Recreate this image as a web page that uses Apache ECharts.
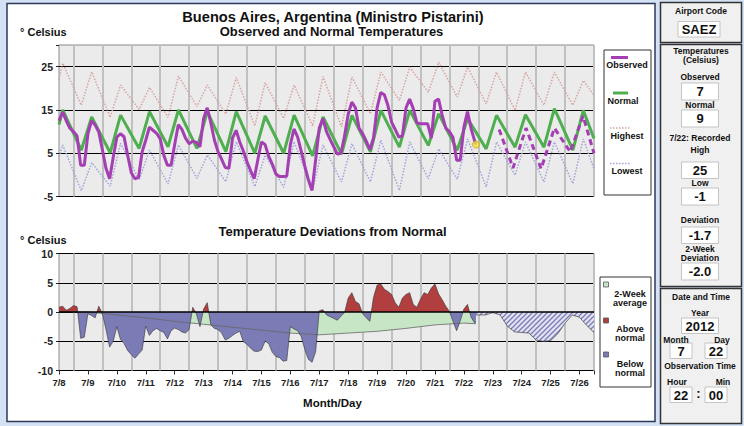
<!DOCTYPE html>
<html><head><meta charset="utf-8">
<script src="https://cdn.jsdelivr.net/npm/echarts@6/dist/echarts.min.js"></script>
<style>html,body{margin:0;padding:0;background:#d5e1f5;}#c{width:744px;height:426px;}</style>
</head><body><div id="c"></div>
<script>
// ---------- data ----------
// x unit: days since 7/8 12:00 (tick labels at noon of each day)
const dayLabels = ['7/8','7/9','7/10','7/11','7/12','7/13','7/14','7/15','7/16','7/17','7/18','7/19','7/20','7/21','7/22','7/23','7/24','7/25','7/26'];
const topTicks = [-5, 5, 15, 25];
const devTicks = [-10, -5, 0, 5, 10];
const X_MAX = 18.5;
const PEAK_T = 0.13, TROUGH_T = 0.77;   // daily max ~15:00, daily min ~06:30

const normalPeaks   = [15.0,13.4,13.8,14.6,15.0,14.6,14.6,13.6,13.8,13.4,13.75,14.9,14.9,14.1,13.0,13.75,13.9,15.3,14.9];
const normalTroughs = [5.7,5.1,6.1,6.5,6.1,5.35,5.0,5.0,4.4,4.8,5.3,6.4,6.8,5.7,6.0,6.4,6.4,5.7];
const normalEnds = [11.6, 8.4];

const highestPeaks   = [25.8,23.8,20.75,20.2,22.8,20.75,22.5,21.3,20.75,22.7,22.6,23.75,24.9,26.0,24.9,23.75,23.75,23.75,21.8];
const highestTroughs = [16.1,13.3,15.1,13.3,15.8,14.05,11.3,13.05,11.3,11.1,14.1,17.2,19.1,18.0,16.4,14.9,16.1,16.1];
const highestEnds = [22.0, 18.4];

const lowestPeaks   = [6.9,2.8,7.3,5.7,6.9,4.6,7.65,4.6,7.65,6.9,7.2,8.0,7.6,6.0,8.3,7.6,7.6,7.6,8.3];
const lowestTroughs = [-3.65,-2.6,-1.2,-2.1,-0.8,-1.6,-2.7,-2.9,-3.5,-1.65,-1.65,-3.6,-0.9,-1.0,-2.8,-0.1,-1.65,-2.0];
const lowestEnds = [4.2, 1.4];

// observed, every 3 hours from 7/8 12:00
const OBS_STEP = 0.125;
const observed = [
 12.5,14.5,12.5,10.8,10.0,9.0,2.2,2.2,
 9.5,12.5,11.5,9.9,5.8,1.5,-0.9,4.0,
 8.7,9.5,8.8,4.5,0.5,-0.9,-0.6,5.3,
 8.0,11.0,10.3,9.6,8.3,4.5,2.2,2.2,
 7.0,11.6,10.5,8.5,7.2,7.8,7.5,6.5,
 13.0,15.5,12.0,8.0,5.3,3.6,1.7,1.5,
 8.5,10.3,7.6,5.5,3.0,1.0,-0.9,3.5,
 7.6,7.0,4.3,2.5,0.2,-0.4,-0.4,-0.3,
 7.0,10.6,8.8,5.5,2.0,-1.2,-3.6,3.5,
 10.8,13.0,10.0,8.2,6.5,4.8,5.0,9.0,
 14.0,16.8,15.5,10.8,9.5,7.8,5.8,8.5,
 15.5,19.0,18.5,16.0,12.2,10.5,8.7,9.0,
 15.5,17.5,15.3,12.0,11.8,11.8,11.8,8.5,
 17.0,17.5,13.8,10.8,10.0,8.6,3.4,3.4,
 11.0,14.6,10.7,7.8
];
const deviation = [
 0.8,1.0,0.3,0.6,1.1,0.9,-4.5,-4.3,
 -0.3,-0.6,-1.0,1.0,-0.3,-3.0,-6.0,-5.0,
 -2.5,-4.7,-5.4,-6.6,-7.3,-7.9,-7.2,-6.5,
 -2.4,-4.0,-3.2,-2.8,-3.2,-3.5,-4.6,-3.2,
 -2.75,-3.0,-3.4,-3.6,-3.0,0.8,-0.3,-2.5,
 0.5,1.6,-2.2,-2.8,-3.0,-3.6,-4.8,-4.5,
 -4.0,-3.6,-3.3,-5.1,-5.5,-6.2,-6.7,-6.75,
 -6.5,-5.0,-5.4,-6.9,-7.6,-7.8,-8.4,-8.3,
 -2.5,-2.9,-3.2,-4.2,-6.4,-8.1,-8.6,-6.8,
 0.2,0.4,-0.5,-0.8,-1.1,-1.4,-0.7,-0.1,
 2.4,3.3,1.8,1.4,-0.3,-1.0,-1.6,2.5,
 4.6,4.8,3.9,3.5,3.0,1.6,0.8,2.4,
 3.0,3.3,1.3,0.8,2.2,3.3,3.0,4.1,
 4.8,3.1,2.1,1.0,0.1,-1.6,-3.2,-1.5,
 0.5,1.3,-0.9,-1.9
];
// current observation 7/22 22:00
const currentTime = 14 + 10/24;
const currentObs = 7, currentNormal = 9, currentDev = -1.7, twoWeekDev = -2.0;
const recordHigh = 25, recordLow = -1;

// forecast (dashed) observed
const fcTimes  = [15.22, 15.70, 16.15, 16.67, 17.13, 17.68, 18.12, 18.5];
const fcValues = [10.5, 1.6, 10.8, 1.4, 10.8, 5.3, 13.6, 5.0];

// forecast deviation (hatched)
const fcDevTimes  = [currentTime,14.75,15.0,15.25,15.5,15.75,16.0,16.25,16.5,16.75,17.0,17.25,17.5,17.75,18.0,18.25,18.5];
const fcDevValues = [-0.5,-0.5,-0.1,-0.5,-2.4,-3.4,-3.5,-3.6,-4.8,-5.0,-4.9,-3.7,-1.9,-0.5,-0.9,-2.3,-3.5];

// 2-week average deviation
const avgTimes  = [0,1,2,3,4,5,6,7,8,9,10,11,12,13,14,currentTime];
const avgValues = [0,0,-0.5,-1.0,-1.6,-2.1,-2.6,-3.1,-3.6,-3.9,-3.6,-3.3,-2.8,-2.2,-1.9,-2.0];

// ---------- build ----------
function dailyCurve(ends, peaks, troughs) {
  const pts = [[0, ends[0]]];
  peaks.forEach((p, k) => {
    pts.push([k + PEAK_T, p]);
    if (k < troughs.length) pts.push([k + TROUGH_T, troughs[k]]);
  });
  pts.push([X_MAX, ends[1]]);
  return pts;
}
const zip = (a, b) => a.map((t, i) => [t, b[i]]);
const obsData = observed.map((v, i) => [i * OBS_STEP, v]).concat([[currentTime, currentObs]]);
const devData = deviation.map((v, i) => [i * OBS_STEP, v]).concat([[currentTime, currentDev]]);

const PURPLE = '#a43fb3', GREEN = '#4fae4f', PINK = '#d9a3a3', LBLUE = '#a3a3db';
const RED = '#b23f3f', BLUE = '#7b7bb6', LGREEN = '#c6e6c6';
const FONT = "'Liberation Sans', Arial, sans-serif";

const hatch = document.createElement('canvas');
hatch.width = 5; hatch.height = 5;
(function(){ const g = hatch.getContext('2d');
  g.fillStyle = '#e2e2f0'; g.fillRect(0,0,5,5);
  g.strokeStyle = '#7c7cb8'; g.lineWidth = 1.3;
  g.beginPath(); g.moveTo(-1,6); g.lineTo(6,-1); g.stroke();
  g.beginPath(); g.moveTo(-1,1); g.lineTo(1,-1); g.stroke();
  g.beginPath(); g.moveTo(4,6); g.lineTo(6,4); g.stroke();
})();

const dayLabel = v => { const i = Math.round(v); return (Math.abs(v - i) < 1e-6 && dayLabels[i]) ? dayLabels[i] : ''; };

// gridline axis: splitLines at midnights (every other half-day tick)
function gridAx(gridIndex, position) {
  return {
    type: 'value', gridIndex, position, min: 0, max: X_MAX, interval: 0.5,
    axisLine: { show: false }, axisTick: { show: false }, axisLabel: { show: false },
    splitLine: { show: true, lineStyle: { color: ['rgba(0,0,0,0)', '#c0c0c0'], width: 2 } }
  };
}

// ---------- layout graphics ----------
const T = (text, x, y, size, opt) => Object.assign({ type: 'text', silent: true, z: 10,
  style: { text, x, y, fill: '#111', font: 'bold ' + size + 'px ' + FONT, textAlign: 'center', textVerticalAlign: 'middle' } }, opt || {});
const TL = (text, x, y, size) => { const t = T(text, x, y, size); t.style.textAlign = 'left'; return t; };
const R = (x, y, w, h, fill, stroke, lw, z) => ({ type: 'rect', silent: true, z: z == null ? 1 : z,
  shape: { x, y, width: w, height: h }, style: { fill, stroke, lineWidth: lw } });
const L = (x1, y1, x2, y2, stroke, lw, dash) => ({ type: 'line', silent: true, z: 10,
  shape: { x1, y1, x2, y2 }, style: { stroke, lineWidth: lw, lineDash: dash || null } });
const box = (x, y, w, h) => R(x, y, w, h, '#ffffff', '#c4c4c4', 1, 5);

const graphics = [
  R(7, 3.5, 648, 418, '#ffffff', '#2c3a58', 1.5, -10),
  T('Buenos Aires, Argentina (Ministro Pistarini)', 333, 16.8, 14.6),
  T('Observed and Normal Temperatures', 331.5, 31.2, 13),
  TL('° Celsius', 20, 32, 11),
  T('Temperature Deviations from Normal', 332.5, 231, 13),
  TL('° Celsius', 20, 239.5, 11),
  T('Month/Day', 332.5, 403, 11.5),
  // top legend
  R(604, 50, 47, 145, '#ffffff', '#333', 1, 5),
  L(611, 57.5, 628, 57.5, PURPLE, 3), T('Observed', 627, 65, 9),
  L(613, 93, 628, 93, GREEN, 3), T('Normal', 623, 100.5, 9),
  L(610, 128, 630, 128, PINK, 1.5, [1.5, 1.5]), T('Highest', 627, 136, 9),
  L(610, 163.5, 630, 163.5, LBLUE, 1.5, [1.5, 1.5]), T('Lowest', 627, 171, 9),
  // bottom legend
  R(600, 277, 51, 110, '#ffffff', '#333', 1, 5),
  R(603.5, 282, 5, 5, LGREEN, '#555', 0.8, 10), T('2-Week', 630, 294, 9), T('average', 630, 303, 9),
  R(603.5, 318, 5, 5, RED, '#555', 0.8, 10), T('Above', 630, 328.5, 9), T('normal', 630, 337.5, 9),
  R(603.5, 352, 5, 5, BLUE, '#555', 0.8, 10), T('Below', 630, 363.5, 9), T('normal', 630, 372.5, 9),
  // right panels
  R(660.5, 2.5, 81, 40, '#f0f0f0', '#333', 1.5, 0),
  T('Airport Code', 701, 10.5, 8.5), box(678, 21.5, 42, 15.5), T('SAEZ', 699, 29.5, 13),
  R(660.5, 44.5, 81, 242, '#f0f0f0', '#333', 1.5, 0),
  T('Temperatures', 701, 50.5, 8.5), T('(Celsius)', 701, 59.5, 8.5),
  T('Observed', 700, 77, 8.5), box(681.5, 83, 37, 17), T(String(currentObs), 700, 91.8, 13),
  T('Normal', 700, 105, 8.5), box(681.5, 110, 37, 17), T(String(currentNormal), 700, 118.8, 13),
  T('7/22: Recorded', 700, 138, 8.5), T('High', 700, 150, 8.5),
  box(681.5, 162, 37, 16.5), T(String(recordHigh), 700, 170.5, 13),
  T('Low', 700, 183, 8.5), box(681.5, 188, 37, 17), T(String(recordLow), 700, 196.8, 13),
  T('Deviation', 700, 220, 8.5), box(681.5, 227, 37, 16.5), T(currentDev.toFixed(1), 700, 235.5, 13),
  T('2-Week', 700, 249, 8.5), T('Deviation', 700, 258, 8.5),
  box(681.5, 263, 37, 17), T(twoWeekDev.toFixed(1), 700, 271.8, 13),
  R(660.5, 288.5, 81, 135, '#f0f0f0', '#333', 1.5, 0),
  T('Date and Time', 701, 296.5, 8.5), T('Year', 700, 313, 8.5),
  box(681.5, 318, 37, 15.5), T('2012', 700, 326, 13),
  T('Month', 676, 339.5, 8.5), T('Day', 722, 339.5, 8.5),
  box(670, 343, 22, 15.5), T('7', 681, 351, 13), box(705, 343, 22, 15.5), T('22', 716, 351, 13),
  T('Observation Time', 700, 365.5, 8.5),
  T('Hour', 677, 381.5, 8.5), T('Min', 723, 381.5, 8.5),
  box(670, 387, 22, 15.5), T('22', 681, 395, 13), T(':', 698.5, 393.5, 13),
  box(705, 387, 22, 15.5), T('00', 716, 395, 13)
];

const chart = echarts.init(document.getElementById('c'), null, { renderer: 'svg', width: 744, height: 426 });
chart.setOption({
  animation: false,
  backgroundColor: '#d5e1f5',
  textStyle: { fontFamily: FONT },
  graphic: { elements: graphics },
  grid: [
    { left: 59, top: 45, width: 535, height: 151.5, show: true, backgroundColor: '#ebebeb', borderColor: '#8a8a8a', borderWidth: 1 },
    { left: 59, top: 253.5, width: 535, height: 117, show: true, backgroundColor: '#ebebeb', borderColor: '#8a8a8a', borderWidth: 1 }
  ],
  xAxis: [
    gridAx(0, 'bottom'),
    gridAx(1, 'top'),
    { type: 'value', gridIndex: 1, position: 'bottom', min: 0, max: X_MAX, interval: 1,
      axisLine: { show: false }, splitLine: { show: false },
      axisTick: { show: true, length: 4, lineStyle: { color: '#333' } },
      axisLabel: { formatter: dayLabel, fontFamily: FONT, fontWeight: 'bold', fontSize: 9.5, color: '#222', margin: 7 } }
  ],
  yAxis: [
    { type: 'value', gridIndex: 0, min: -5, max: 30, interval: 5,
      axisLine: { show: false }, axisTick: { show: false },
      axisLabel: { formatter: v => topTicks.includes(v) ? String(v) : '', fontFamily: FONT, fontWeight: 'bold', fontSize: 10.5, color: '#222', margin: 6 },
      splitLine: { show: true, lineStyle: { color: ['#000', 'rgba(0,0,0,0)'], width: 1 } } },
    { type: 'value', gridIndex: 1, min: -10, max: 10, interval: 5,
      axisLine: { show: false },
      axisTick: { show: true, length: 3, lineStyle: { color: '#222' } },
      axisLabel: { formatter: v => devTicks.includes(v) ? String(v) : '', fontFamily: FONT, fontWeight: 'bold', fontSize: 10.5, color: '#222', margin: 6 },
      splitLine: { show: true, lineStyle: { color: '#000', width: 1 } } },
    { type: 'value', gridIndex: 0, position: 'left', min: -5, max: 30, interval: 10,
      axisLine: { show: false }, axisLabel: { show: false }, splitLine: { show: false },
      axisTick: { show: true, length: 3, lineStyle: { color: '#222' } } }
  ],
  visualMap: [{ type: 'piecewise', show: false, seriesIndex: 7, dimension: 1,
    pieces: [{ gte: -50, lt: 0, color: BLUE }, { gte: 0, lte: 50, color: RED }] }],
  series: [
    { name: 'Highest', type: 'line', xAxisIndex: 0, yAxisIndex: 0, data: dailyCurve(highestEnds, highestPeaks, highestTroughs),
      symbol: 'none', lineStyle: { color: PINK, width: 1.5, type: [1.5, 1.5] }, silent: true },
    { name: 'Lowest', type: 'line', xAxisIndex: 0, yAxisIndex: 0, data: dailyCurve(lowestEnds, lowestPeaks, lowestTroughs),
      symbol: 'none', lineStyle: { color: LBLUE, width: 1.5, type: [1.5, 1.5] }, silent: true },
    { name: 'Normal', type: 'line', xAxisIndex: 0, yAxisIndex: 0, data: dailyCurve(normalEnds, normalPeaks, normalTroughs),
      symbol: 'none', lineStyle: { color: GREEN, width: 3 }, silent: true },
    { name: 'Observed', type: 'line', xAxisIndex: 0, yAxisIndex: 0, data: obsData,
      symbol: 'none', lineStyle: { color: PURPLE, width: 3 }, silent: true },
    { name: 'Forecast', type: 'line', xAxisIndex: 0, yAxisIndex: 0, data: zip(fcTimes, fcValues),
      symbol: 'none', lineStyle: { color: PURPLE, width: 3, type: [6, 4] }, silent: true },
    { name: 'Current', type: 'scatter', xAxisIndex: 0, yAxisIndex: 0, data: [[currentTime, currentObs]],
      symbolSize: 7, itemStyle: { color: '#f4e03c', borderColor: '#c9a400', borderWidth: 1 }, silent: true, z: 5 },
    { name: '2-Week average', type: 'line', xAxisIndex: 1, yAxisIndex: 1, data: zip(avgTimes, avgValues),
      symbol: 'none', lineStyle: { color: '#666', width: 0.8 }, areaStyle: { color: LGREEN, opacity: 1 }, silent: true },
    { name: 'Deviation', type: 'line', xAxisIndex: 1, yAxisIndex: 1, data: devData,
      symbol: 'none', lineStyle: { color: '#333', width: 0.6 }, areaStyle: { opacity: 1 }, silent: true,
      markLine: { silent: true, symbol: 'none', label: { show: false }, lineStyle: { color: '#000', width: 1.6, type: 'solid' }, data: [{ yAxis: 0 }] } },
    { name: 'Forecast deviation', type: 'line', xAxisIndex: 1, yAxisIndex: 1, data: zip(fcDevTimes, fcDevValues),
      symbol: 'none', lineStyle: { color: '#444', width: 0.7 }, areaStyle: { color: { image: hatch, repeat: 'repeat' }, opacity: 1 }, silent: true }
  ]
});
</script></body></html>
